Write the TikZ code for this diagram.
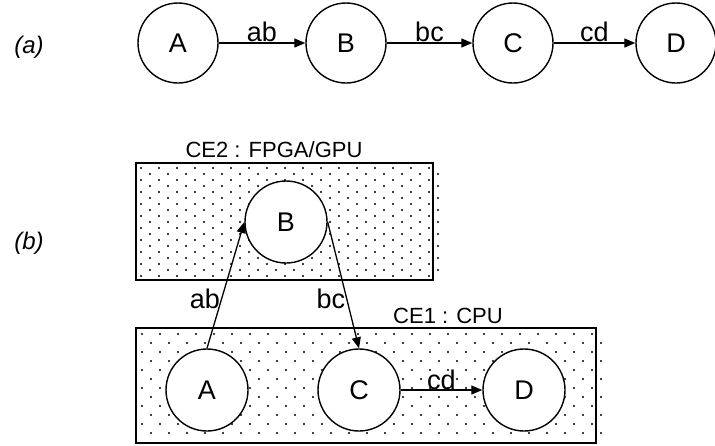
\documentclass[tikz,border=0pt]{standalone}
\usepackage{fontspec}
\setmainfont{Liberation Sans}
\usetikzlibrary{arrows.meta,positioning}

\begin{document}
\begin{tikzpicture}[x=1pt, y=-1pt, every node/.style={font=\fontsize{27}{31}\selectfont},
  st/.style={circle, draw, line width=1.4pt, fill=white, minimum size=80pt, inner sep=0pt},
  ce/.style={draw, line width=2pt, inner sep=0pt},
  flow/.style={-{Triangle[length=11pt, width=9pt]}, line width=1.3pt},
  lbl/.style={inner sep=1pt}]
\useasboundingbox (0,0) rectangle (715,445);
% (a) plain chain
\node[font=\fontsize{24}{28}\selectfont\itshape] (la) at (29,47) {(a)};
\node[st] (a1) at (178,43) {A};
\node[st] (b1) at (346,43) {B};
\node[st] (c1) at (513,43) {C};
\node[st] (d1) at (676,43) {D};
\draw[flow] (a1) -- node[above, lbl]{ab} (b1);
\draw[flow] (b1) -- node[above, lbl]{bc} (c1);
\draw[flow] (c1) -- node[above, lbl]{cd} (d1);
% (b) mapped on compute elements
\node[font=\fontsize{24}{28}\selectfont\itshape] (lb) at (29,243) {(b)};
\node[ce, minimum width=297pt, minimum height=117pt] (ce2) at (284.5,221.5) {};
\node[ce, minimum width=460pt, minimum height=115pt] (ce1) at (366,385.5) {};
\node[font=\fontsize{22}{26}\selectfont] (t2) at (274,150) {CE2 : FPGA/GPU};
\node[font=\fontsize{22}{26}\selectfont] (t1) at (448,316) {CE1 : CPU};
% dots
\foreach \r in {0,...,18}{
  \pgfmathsetmacro\yy{168+6*\r}
  \pgfmathsetmacro\xs{141+9*mod(\r,2)}
  \foreach \c in {0,...,16}{
    \fill ({\xs+18*\c},\yy) circle (1.1pt);
  }
}
\foreach \r in {0,...,11}{
  \pgfmathsetmacro\yy{334+9*\r}
  \pgfmathsetmacro\xs{142+9*mod(\r,2)}
  \foreach \c in {0,...,25}{
    \fill ({\xs+18*\c},\yy) circle (1.1pt);
  }
}
\node[st, minimum size=82pt] (b2) at (286,222) {B};
\node[st, minimum size=82pt] (a2) at (207,390) {A};
\node[st, minimum size=82pt] (c2) at (359,390) {C};
\node[st, minimum size=82pt] (d2) at (524,390) {D};
\draw[flow] (a2.north) -- node[pos=0.39, left, lbl]{ab} (b2.west);
\draw[flow] (b2.east) -- node[pos=0.61, left, lbl]{bc} (c2.north);
\draw[flow] (c2) -- node[above, inner sep=0pt]{cd} (d2);
\end{tikzpicture}
\end{document}
